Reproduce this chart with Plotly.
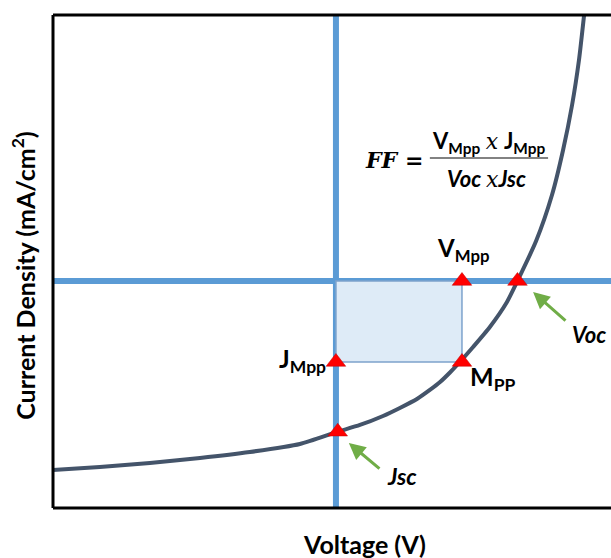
import plotly.graph_objects as go

# J-V curve (voltage in V, current density in mA/cm^2)
voltage = [-0.943, -0.787, -0.62, -0.453, -0.287, -0.12, 0.003, 0.08, 0.157, 0.213,
           0.27, 0.313, 0.347, 0.38, 0.413, 0.457, 0.513, 0.570, 0.605, 0.667,
           0.720, 0.757, 0.787, 0.810, 0.827]
current = [-25.2, -24.8, -24.27, -23.6, -22.8, -21.73, -20.13, -19.2, -18.0, -16.93,
           -15.73, -14.53, -13.47, -12.2, -10.8, -8.8, -6.13, -2.8, 0.0, 5.33,
           11.47, 17.47, 23.47, 29.47, 35.47]

# key points
V_oc = 0.605
J_sc = -20.1
V_mpp = 0.42
J_mpp = -10.8
point_v = [0.006, 0.0, V_mpp, V_mpp, V_oc]
point_j = [J_sc, J_mpp, J_mpp, 0.0, 0.0]

x_range = [-0.943, 0.9167]
y_range = [-30.27, 35.47]

BLUE = "#5B9BD5"
CURVE = "#44546A"
GREEN = "#70AD47"
FONT = "Lato"
SERIF = "DejaVu Serif"

fig = go.Figure()

fig.add_trace(go.Scatter(x=voltage, y=current, mode="lines",
                         line=dict(color=CURVE, width=4, shape="spline", smoothing=0.6),
                         hoverinfo="skip", showlegend=False))
fig.add_trace(go.Scatter(x=point_v, y=point_j, mode="markers",
                         marker=dict(symbol="triangle-up", size=17, color="#FF0000",
                                     line=dict(color="#C00000", width=0.5)),
                         hoverinfo="skip", showlegend=False))

shapes = [
    # power rectangle
    dict(type="rect", xref="x", yref="y", x0=0, x1=V_mpp, y0=J_mpp, y1=0,
         fillcolor="#DEEBF7", line=dict(color="#7DA3CC", width=1.5), layer="below"),
    # axes through origin
    dict(type="line", xref="x", yref="paper", x0=0, x1=0, y0=0, y1=1,
         line=dict(color=BLUE, width=6), layer="below"),
    dict(type="line", xref="paper", yref="y", x0=0, x1=1, y0=0, y1=0,
         line=dict(color=BLUE, width=6), layer="below"),
    # fraction bar
    dict(type="line", xref="x", yref="y", x0=0.313, x1=0.707, y0=16.4, y1=16.4,
         line=dict(color="#595959", width=1.5)),
    # frame: top and bottom (open on the right)
    dict(type="line", xref="paper", yref="paper", x0=0, x1=1, y0=1, y1=1,
         line=dict(color="black", width=3)),
    dict(type="line", xref="paper", yref="paper", x0=0, x1=1, y0=0, y1=0,
         line=dict(color="black", width=3)),
    dict(type="line", xref="paper", yref="paper", x0=0, x1=0, y0=0, y1=1,
         line=dict(color="black", width=3)),
]

ann = []
def label(x, y, text, size=20, family=FONT):
    ann.append(dict(x=x, y=y, xref="x", yref="y", text=text, xanchor="center",
                    yanchor="middle", showarrow=False,
                    font=dict(family=family, size=size, color="black")))

label(0.843, -7.07, "<b><i>Voc</i></b>", size=22)
label(0.22, -26.0, "<b><i>Jsc</i></b>", size=23)
label(0.423, 4.2, "<b>V<sub>Mpp</sub></b>", size=24)
label(-0.113, -10.6, "<b>J<sub>Mpp</sub></b>", size=25)
label(0.523, -13.0, "<b>M<sub>PP</sub></b>", size=25)
label(0.193, 16.13, "<b><i>FF</i> =</b>", size=22, family=SERIF)
label(0.51, 18.6, "<b>V<sub>Mpp</sub></b> <span style='font-family:DejaVu Serif'><i>x</i></span> <b>J<sub>Mpp</sub></b>", size=22)
label(0.503, 13.73, "<b><i>Voc </i></b><span style='font-family:DejaVu Serif'><i>x</i></span><b><i>Jsc</i></b>", size=22)

# arrows
for hx, hy, tx, ty in [(0.657, -1.47, 0.77, -5.47), (0.043, -21.6, 0.15, -25.2)]:
    ann.append(dict(x=hx, y=hy, ax=tx, ay=ty, xref="x", yref="y", axref="x", ayref="y",
                    text="", showarrow=True, arrowhead=2, arrowsize=1.1, arrowwidth=3,
                    arrowcolor=GREEN))

# axis titles
ann.append(dict(x=0.559, y=-0.073, xref="paper", yref="paper", text="<b>Voltage (V)</b>",
                xanchor="center", yanchor="middle",
                showarrow=False, font=dict(family=FONT, size=25, color="black")))
ann.append(dict(x=-0.052, y=0.473, xref="paper", yref="paper",
                text="<b>Current Density (mA/cm<sup>2</sup>)</b>", textangle=-90,
                xanchor="center", yanchor="middle",
                showarrow=False, font=dict(family=FONT, size=25, color="black")))

fig.update_layout(
    width=611, height=558,
    margin=dict(l=53, r=0, t=15, b=50),
    paper_bgcolor="white", plot_bgcolor="white",
    shapes=shapes, annotations=ann,
    xaxis=dict(range=x_range, showgrid=False, zeroline=False, showticklabels=False,
               ticks="", showline=False, fixedrange=True),
    yaxis=dict(range=y_range, showgrid=False, zeroline=False, showticklabels=False,
               ticks="", showline=False, fixedrange=True),
)

fig.write_html("out.html", config={"displayModeBar": False},
               post_script="document.body.style.margin='0';document.documentElement.style.overflow='hidden';")
